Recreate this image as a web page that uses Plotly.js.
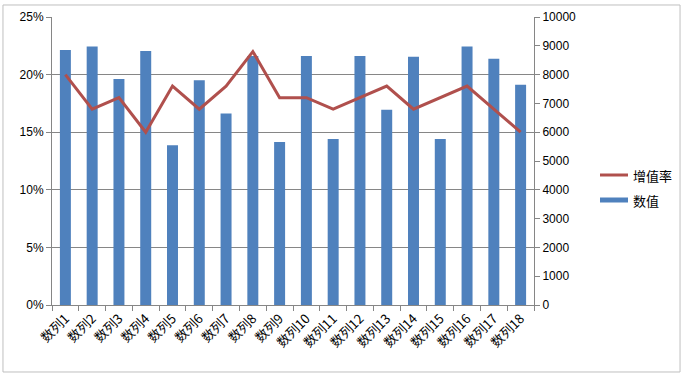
<!DOCTYPE html>
<html>
<head>
<meta charset="utf-8">
<script src="https://cdn.plot.ly/plotly-3.0.1.min.js"></script>
<style>html,body{margin:0;padding:0;background:#fff;}#chart{width:683px;height:376px;}</style>
</head>
<body>
<div id="chart"></div>
<script>
const categories = ["数列1","数列2","数列3","数列4","数列5","数列6","数列7","数列8","数列9","数列10","数列11","数列12","数列13","数列14","数列15","数列16","数列17","数列18"];
const values = [8850, 8980, 7850, 8820, 5550, 7800, 6650, 8650, 5660, 8650, 5760, 8650, 6780, 8620, 5760, 8980, 8550, 7650];
const growthRate = [0.20, 0.17, 0.18, 0.15, 0.19, 0.17, 0.19, 0.22, 0.18, 0.18, 0.17, 0.18, 0.19, 0.17, 0.18, 0.19, 0.17, 0.15];
const leftTicks = [0, 0.05, 0.10, 0.15, 0.20, 0.25];
const rightTicks = [0,1000,2000,3000,4000,5000,6000,7000,8000,9000,10000];
const legendNames = ["增值率", "数值"];

const lineColor = "#B0504D";
const barColor = "#4F81BD";
const numFont = {family: "Liberation Sans, Arial, sans-serif", size: 12, color: "#000"};
const cjkFont = {family: "Noto Sans CJK SC, sans-serif", size: 13, color: "#000"};

const data = [
  {
    type: "bar", name: legendNames[1],
    x: categories, y: values, yaxis: "y",
    marker: {color: barColor}
  },
  {
    type: "scatter", mode: "lines", name: legendNames[0],
    x: categories, y: growthRate, yaxis: "y2",
    line: {color: lineColor, width: 3}
  }
];

const layout = {
  width: 683, height: 376,
  margin: {l: 52, r: 149, t: 17, b: 71},
  paper_bgcolor: "#fff", plot_bgcolor: "#fff",
  bargap: 0.59,
  showlegend: false,
  xaxis: {
    type: "category",
    tickangle: -45,
    tickfont: cjkFont,
    showline: true, linecolor: "#868686", linewidth: 1,
    ticks: "outside", tickson: "boundaries", ticklen: 5, tickcolor: "#868686",
    showgrid: false, zeroline: false
  },
  yaxis: {
    side: "right",
    range: [0, 10000],
    tickvals: rightTicks,
    ticktext: rightTicks.map(String),
    tickfont: numFont,
    showline: true, linecolor: "#868686", linewidth: 1,
    ticks: "outside", ticklen: 5, tickcolor: "#868686",
    showgrid: false,
    zeroline: false
  },
  yaxis2: {
    overlaying: "y", side: "left",
    range: [0, 0.25],
    tickvals: leftTicks,
    tickformat: ".0%",
    tickfont: numFont,
    showline: true, linecolor: "#868686", linewidth: 1,
    ticks: "outside", ticklen: 5, tickcolor: "#868686",
    showgrid: true, gridcolor: "#868686", gridwidth: 1,
    zeroline: false
  },
  shapes: [
    {type: "rect", xref: "paper", yref: "paper",
     x0: -0.1017, x1: 1.303, y0: -0.2326, y1: 1.0417,
     line: {color: "#BFBFBF", width: 1}, layer: "below"},
    {type: "line", xref: "paper", yref: "paper",
     x0: (600-52)/482, x1: (628-52)/482, y0: (305-175)/288, y1: (305-175)/288,
     line: {color: lineColor, width: 3}},
    {type: "rect", xref: "paper", yref: "paper",
     x0: (600-52)/482, x1: (628-52)/482, y0: (305-202.5)/288, y1: (305-197.5)/288,
     fillcolor: barColor, line: {width: 0}}
  ],
  annotations: [
    {xref: "paper", yref: "paper", x: (631-52)/482, y: (305-175)/288,
     xanchor: "left", yanchor: "middle", showarrow: false,
     text: legendNames[0], font: {family: "Noto Sans CJK SC, sans-serif", size: 13, color: "#000"}},
    {xref: "paper", yref: "paper", x: (631-52)/482, y: (305-200)/288,
     xanchor: "left", yanchor: "middle", showarrow: false,
     text: legendNames[1], font: {family: "Noto Sans CJK SC, sans-serif", size: 13, color: "#000"}}
  ]
};

Plotly.newPlot("chart", data, layout, {displayModeBar: false, staticPlot: true});
</script>
</body>
</html>
